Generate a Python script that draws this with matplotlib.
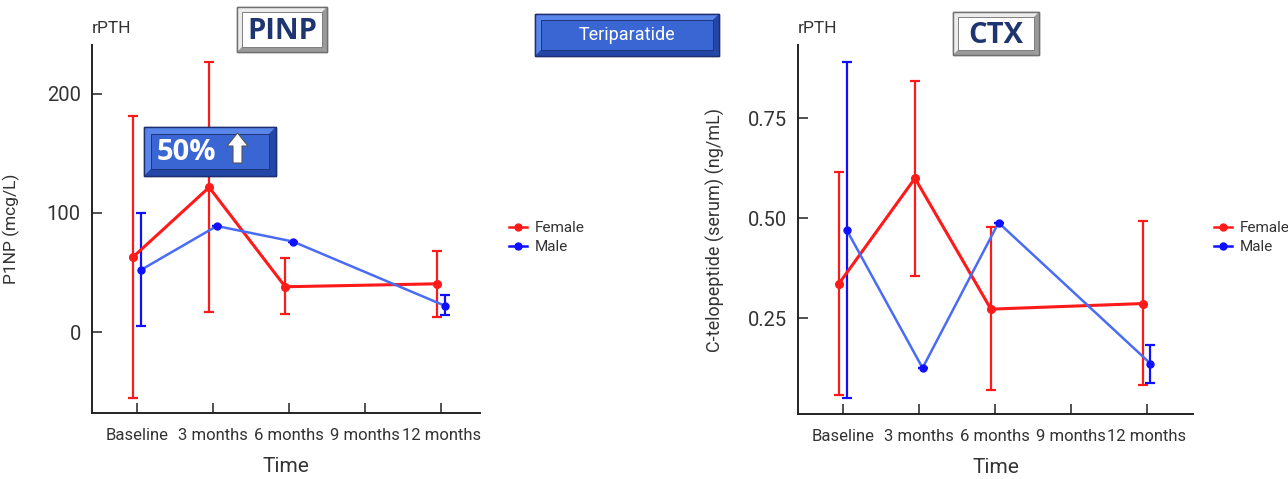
import numpy as np
import matplotlib
matplotlib.use("Agg")
import matplotlib.pyplot as plt
from matplotlib.patches import Rectangle, Polygon, FancyArrow
from matplotlib.lines import Line2D

plt.rcParams['font.family'] = ['Roboto', 'DejaVu Sans']

# data
time_labels = ['Baseline', '3 months', '6 months', '9 months', '12 months']
female_idx = [0, 1, 2, 4]
male_idx = [0, 1, 2, 4]

p1np_female = [63, 121.5, 38, 40.5]
p1np_female_lo = [-55.5, 17, 15, 13]
p1np_female_hi = [181, 227, 62, 68]
p1np_male = [52, 89, 76, 22]
p1np_male_lo = [5, 89, 76, 14]
p1np_male_hi = [100, 89, 76, 31]

ctx_female = [0.337, 0.600, 0.273, 0.287]
ctx_female_lo = [0.058, 0.356, 0.071, 0.083]
ctx_female_hi = [0.616, 0.843, 0.479, 0.493]
ctx_male = [0.471, 0.126, 0.489, 0.137]
ctx_male_lo = [0.050, 0.126, 0.489, 0.089]
ctx_male_hi = [0.891, 0.126, 0.489, 0.183]

RED = '#ff1a1a'
BLUE = '#1010ff'
BLUE_LINE = '#4a6cf5'
TXT = '#333333'
W, H = 1288, 479

fig = plt.figure(figsize=(W / 100, H / 100), dpi=100)


def px_axes(l, t, r, b):
    return fig.add_axes([l / W, 1 - b / H, (r - l) / W, (b - t) / H])


def draw_panel(ax, f, flo, fhi, m, mlo, mhi):
    xf = np.array(female_idx) - 0.05
    xm = np.array(male_idx) + 0.05
    f, flo, fhi = map(np.array, (f, flo, fhi))
    m, mlo, mhi = map(np.array, (m, mlo, mhi))
    ax.errorbar(xf, f, yerr=[f - flo, fhi - f], fmt='none', ecolor=RED,
                elinewidth=1.6, capsize=3.5, capthick=1.6, zorder=2)
    ax.errorbar(xm, m, yerr=[m - mlo, mhi - m], fmt='none', ecolor=BLUE,
                elinewidth=1.6, capsize=3.5, capthick=1.6, zorder=2)
    ax.plot(xf, f, color=RED, lw=2.2, zorder=3)
    ax.plot(xf, f, 'o', color=RED, ms=5.5, zorder=4)
    ax.plot(xm, m, color=BLUE_LINE, lw=1.8, zorder=3)
    ax.plot(xm, m, 'o', color=BLUE, ms=5, zorder=4)
    for s in ['top', 'right']:
        ax.spines[s].set_visible(False)
    for s in ['left', 'bottom']:
        ax.spines[s].set_color('#222222')
        ax.spines[s].set_linewidth(1.4)
    ax.set_xticks(range(len(time_labels)))
    ax.set_xticklabels(time_labels)
    ax.tick_params(direction='in', length=7, width=1.2, color=TXT,
                   labelcolor=TXT)
    ax.tick_params(axis='x', labelsize=12, pad=11)
    ax.tick_params(axis='y', labelsize=14.5, pad=8)
    ax.set_xlabel('Time', fontsize=15, color=TXT, labelpad=10)
    ax.text(0, 1.046, 'rPTH', transform=ax.transAxes, fontsize=12.5,
            color=TXT, ha='left', va='center')


ax1 = px_axes(92, 45, 480, 413)
draw_panel(ax1, p1np_female, p1np_female_lo, p1np_female_hi,
           p1np_male, p1np_male_lo, p1np_male_hi)
ax1.set_xlim(-0.59, 4.51)
ax1.set_ylim(-68, 241)
ax1.set_yticks([0, 100, 200])
ax1.set_ylabel('P1NP (mcg/L)', fontsize=12.5, color=TXT)
ax1.yaxis.set_label_coords(-0.185, 0.5)

ax2 = px_axes(798, 45, 1193, 414)
draw_panel(ax2, ctx_female, ctx_female_lo, ctx_female_hi,
           ctx_male, ctx_male_lo, ctx_male_hi)
ax2.set_xlim(-0.59, 4.61)
ax2.set_ylim(0.011, 0.933)
ax2.set_yticks([0.25, 0.50, 0.75])
ax2.set_yticklabels(['0.25', '0.50', '0.75'])
ax2.set_ylabel('C-telopeptide (serum) (ng/mL)', fontsize=13, color=TXT)
ax2.yaxis.set_label_coords(-0.184, 0.5)

handles = [Line2D([], [], color=RED, marker='o', ms=5, lw=1.8),
           Line2D([], [], color=BLUE, marker='o', ms=5, lw=1.8)]
for x0 in (509, 1214):
    fig.legend(handles, ['Female', 'Male'], loc='upper left',
               bbox_to_anchor=(x0 / W, 1 - 221 / H), frameon=False,
               fontsize=11, handlelength=1.2, handletextpad=0.5,
               labelspacing=0.35, borderpad=0, borderaxespad=0,
               labelcolor=TXT)

# overlay in pixel coordinates for the label boxes
ov = fig.add_axes([0, 0, 1, 1], zorder=10)
ov.set_xlim(0, W)
ov.set_ylim(H, 0)
ov.axis('off')
ov.patch.set_alpha(0)


def bevel_box(x0, y0, x1, y1, bw, face, light, dark, inner, edge):
    ov.add_patch(Rectangle((x0, y0), x1 - x0, y1 - y0, fc=face, ec=edge, lw=1))
    ov.add_patch(Polygon([(x0, y0), (x1, y0), (x1 - bw, y0 + bw), (x0 + bw, y0 + bw)],
                         fc=light, ec='none'))
    ov.add_patch(Polygon([(x0, y0), (x0 + bw, y0 + bw), (x0 + bw, y1 - bw), (x0, y1)],
                         fc=light, ec='none'))
    ov.add_patch(Polygon([(x0, y1), (x0 + bw, y1 - bw), (x1 - bw, y1 - bw), (x1, y1)],
                         fc=dark, ec='none'))
    ov.add_patch(Polygon([(x1, y0), (x1, y1), (x1 - bw, y1 - bw), (x1 - bw, y0 + bw)],
                         fc=dark, ec='none'))
    ov.add_patch(Rectangle((x0 + bw, y0 + bw), x1 - x0 - 2 * bw, y1 - y0 - 2 * bw,
                           fc=inner, ec=edge, lw=0.6))
    ov.add_patch(Rectangle((x0, y0), x1 - x0, y1 - y0, fc='none', ec=edge, lw=1))


# grey title boxes
bevel_box(237, 7, 327, 52, 5, '#d0d0d0', '#ececec', '#9a9a9a', 'white', '#707070')
ov.text(282, 31, 'PINP', ha='center', va='center', fontsize=21,
        fontweight='bold', color='#1f3570', family=['Open Sans', 'DejaVu Sans'])
bevel_box(953, 12, 1039, 55, 5, '#d0d0d0', '#ececec', '#9a9a9a', 'white', '#707070')
ov.text(996, 35, 'CTX', ha='center', va='center', fontsize=21,
        fontweight='bold', color='#1f3570', family=['Open Sans', 'DejaVu Sans'])

# blue boxes
bevel_box(535, 14, 719, 56, 6, '#3a66d4', '#5a86ea', '#2446a6', '#3a66d4', '#1c2f70')
ov.text(627, 35, 'Teriparatide', ha='center', va='center', fontsize=13,
        color='white')
bevel_box(144, 127, 276, 176, 7, '#3a66d4', '#5a86ea', '#2446a6', '#3a66d4', '#1c2f70')
ov.text(186, 152, '50%', ha='center', va='center', fontsize=21,
        fontweight='bold', color='white', family=['Open Sans', 'DejaVu Sans'])
ov.add_patch(FancyArrow(237.5, 163, 0, -30, width=9, head_width=21,
                        head_length=13, length_includes_head=True,
                        fc='white', ec='#555555', lw=0.8))

fig.savefig('out.png', dpi=100)
